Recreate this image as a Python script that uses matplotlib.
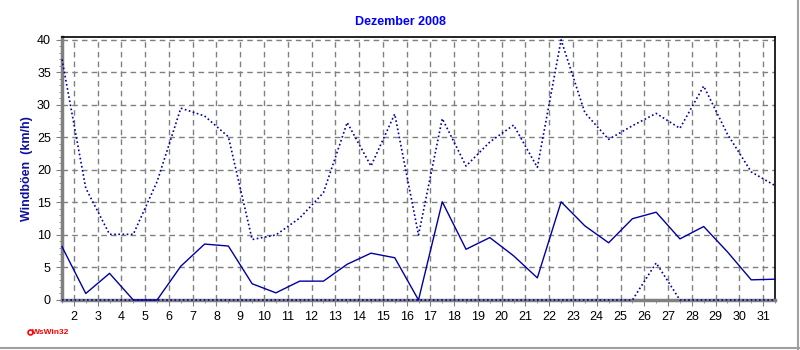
import numpy as np
import matplotlib
matplotlib.use('Agg')
import matplotlib.pyplot as plt
from matplotlib.lines import Line2D

# Tagesmittel und Böen-Extremwerte Dezember 2008 (km/h), ein Wert je Tag
tage = np.arange(1, 32)
boeen_max = [37.0, 17.2, 10.1, 10.1, 18.2, 29.5, 28.3, 25.1, 9.3, 10.0,
             12.6, 16.5, 27.3, 20.6, 28.6, 10.0, 27.9, 20.6, 24.3, 26.9,
             20.4, 40.0, 28.8, 24.7, 26.8, 28.7, 26.4, 32.9, 25.5, 19.7, 17.6]
boeen_mittel = [8.2, 1.0, 4.1, 0.0, 0.0, 5.2, 8.6, 8.3, 2.5, 1.1,
                2.9, 2.9, 5.5, 7.2, 6.5, 0.0, 15.1, 7.8, 9.6, 6.8,
                3.4, 15.1, 11.4, 8.8, 12.5, 13.5, 9.4, 11.3, 7.4, 3.1, 3.2]
boeen_min = [0, 0, 0, 0, 0, 0, 0, 0, 0, 0,
             0, 0, 0, 0, 0, 0, 0, 0, 0, 0,
             0, 0, 0, 0, 0, 5.7, 0, 0, 0, 0, 0]
tick_tage = list(range(2, 32))

plt.rcParams['font.family'] = ['Liberation Sans', 'DejaVu Sans']

fig = plt.figure(figsize=(8, 3.5), dpi=100)
ax = fig.add_axes([62 / 800, 1 - 300 / 350, 713 / 800, 262.7 / 350])

x = tage + 0.5
farbe = '#0000a0'
ax.plot(x, boeen_max, color=farbe, lw=1.2, ls=(0, (1, 1.5)), clip_on=False, zorder=4)
ax.plot(x, boeen_mittel, color=farbe, lw=1.0, clip_on=False, zorder=4)
ax.plot(x, boeen_min, color=farbe, lw=1.2, ls=(0, (1, 1.5)), clip_on=False, zorder=4)

ax.set_xlim(1.5, 31.5)
ax.set_ylim(0, 40.4)
ax.set_xticks(tick_tage)
ax.set_xticklabels([str(t) for t in tick_tage])
ax.set_xticks(np.arange(1.5, 32, 0.5), minor=True)
ax.set_yticks(np.arange(0, 41, 5))
ax.set_yticks(np.arange(0, 41, 1), minor=True)
ax.tick_params(axis='both', which='major', labelsize=9, length=4, color='#808080', pad=4)
ax.tick_params(axis='both', which='minor', length=2, color='#808080')

ax.grid(True, which='major', color='#808080', ls=(0, (4, 3)), lw=1)

for side in ['top', 'right']:
    ax.spines[side].set_color('black')
    ax.spines[side].set_linewidth(1.2)
for side in ['left', 'bottom']:
    ax.spines[side].set_color('#808080')
    ax.spines[side].set_linewidth(2.5)

ax.set_ylabel('Windböen  (km/h)', color='#1010a0', fontsize=9, fontweight='bold')
ax.yaxis.set_label_coords(-29 / 713, 0.5)
fig.text(0.5, 1 - 22 / 350, 'Dezember 2008', color='#0000ff', fontsize=9,
         fontweight='bold', ha='center', va='center')

# Programmkennung unten links
fig.text(32 / 800, 1 - 332 / 350, 'WsWin32', color='#ff0000', fontsize=6,
         fontweight='bold', ha='left', va='center')
fig.add_artist(Line2D([30 / 800], [1 - 332 / 350], marker='o', ms=3.5, mfc='white',
                      mec='#ff0000', mew=1.2, transform=fig.transFigure))

# grauer Rahmen rechts und unten
fig.add_artist(Line2D([0, 1], [1 - 348 / 350] * 2, color='#a0a0a0', lw=1.5,
                      transform=fig.transFigure))
fig.add_artist(Line2D([1 - 2 / 800] * 2, [0, 1], color='#a0a0a0', lw=1.5,
                      transform=fig.transFigure))

fig.savefig('out.png', dpi=100)
